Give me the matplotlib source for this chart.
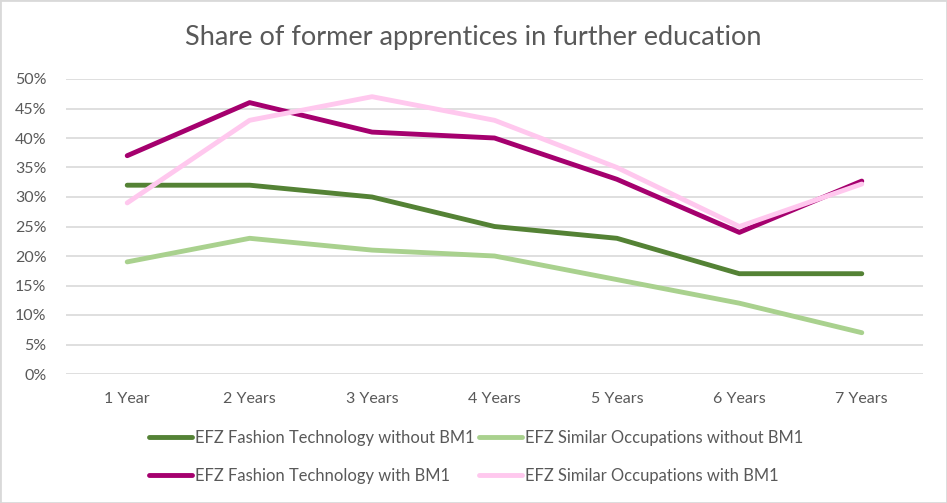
import matplotlib.pyplot as plt
from matplotlib.ticker import PercentFormatter

plt.rcParams['font.family'] = ['Lato', 'DejaVu Sans']

years = ['1 Year', '2 Years', '3 Years', '4 Years', '5 Years', '6 Years', '7 Years']
fashion_without = [0.32, 0.32, 0.30, 0.25, 0.23, 0.17, 0.17]
similar_without = [0.19, 0.23, 0.21, 0.20, 0.16, 0.12, 0.07]
fashion_with = [0.37, 0.46, 0.41, 0.40, 0.33, 0.24, 0.327]
similar_with = [0.29, 0.43, 0.47, 0.43, 0.35, 0.25, 0.322]

txt = '#595959'

fig = plt.figure(figsize=(9.47, 5.03), dpi=100)
ax = fig.add_axes([66 / 947, 1 - 374 / 503, (923 - 66) / 947, (374 - 79) / 503])

x = range(len(years))
l1, = ax.plot(x, fashion_without, color='#548235', lw=3.5, solid_capstyle='round',
              label='EFZ Fashion Technology without BM1')
l2, = ax.plot(x, similar_without, color='#A9D18E', lw=3.5, solid_capstyle='round',
              label='EFZ Similar Occupations without BM1')
l3, = ax.plot(x, fashion_with, color='#A5006E', lw=3.5, solid_capstyle='round',
              label='EFZ Fashion Technology with BM1')
l4, = ax.plot(x, similar_with, color='#FFC8EE', lw=3.5, solid_capstyle='round',
              label='EFZ Similar Occupations with BM1')

ax.set_xlim(-0.5, len(years) - 0.5)
ax.set_ylim(0, 0.5)
ax.set_yticks([i * 0.05 for i in range(11)])
ax.yaxis.set_major_formatter(PercentFormatter(1.0, decimals=0))
ax.set_xticks(list(x))
ax.set_xticklabels(years)
ax.grid(axis='y', color='#D9D9D9', lw=1.2)
ax.set_axisbelow(True)
for s in ax.spines.values():
    s.set_visible(False)
ax.tick_params(length=0, colors=txt, labelsize=11.5)
ax.tick_params(axis='x', pad=13)
ax.tick_params(axis='y', pad=14)

fig.text(0.5, 1 - 38 / 503, 'Share of former apprentices in further education',
         ha='center', va='center', fontsize=19.5, color=txt)

leg = fig.legend([l1, l3, l2, l4], [l1.get_label(), l3.get_label(), l2.get_label(), l4.get_label()],
                 ncol=2, loc='center', bbox_to_anchor=(476 / 947, 1 - 457 / 503),
                 frameon=False, fontsize=11.9, handlelength=2.6, handletextpad=0.2,
                 columnspacing=0.25, labelspacing=1.3)
for t in leg.get_texts():
    t.set_color(txt)

fig.patches.append(plt.Rectangle((0, 0), 1, 1, transform=fig.transFigure, fill=False,
                                 edgecolor='#D9D9D9', lw=2))

plt.savefig('out.png', dpi=100)
